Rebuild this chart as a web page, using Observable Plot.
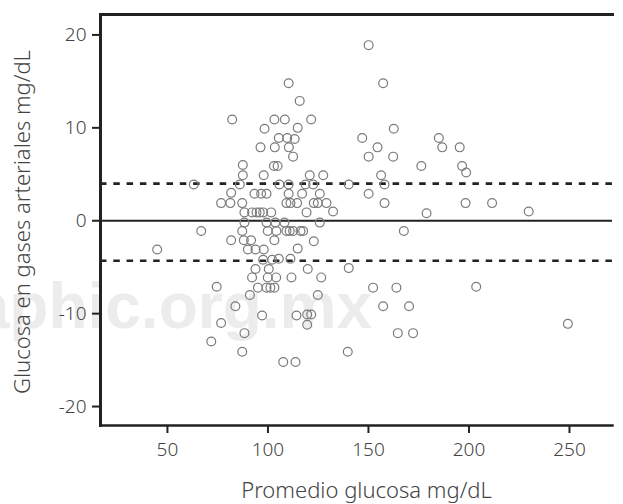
<!DOCTYPE html>
<html>
<head>
<meta charset="utf-8">
<script src="https://cdn.jsdelivr.net/npm/d3@7"></script>
<script src="https://cdn.jsdelivr.net/npm/@observablehq/plot@0.6"></script>
<style>
  html, body { margin: 0; padding: 0; background: #fff; }
  #wrap { position: relative; width: 623px; height: 504px; }
  #wm { position: absolute; left: 0; top: 0; width: 623px; height: 504px; overflow: hidden; z-index: 0; }
  #wm span { position: absolute; right: 251px; top: 269px; font: bold 64px "Liberation Sans", Arial, sans-serif; color: #ececec; white-space: nowrap; }
  #chart { position: absolute; left: 0; top: 0; z-index: 1; }
</style>
</head>
<body>
<div id="wrap">
  <div id="wm"><span>aphic.org.mx</span></div>
  <div id="chart"></div>
</div>
<script>
// Mean of the two glucose measurements (mg/dL)
const avgGlucose = [
  44.9, 63.1, 66.8, 74.5, 76.7, 71.8, 82.2, 81.7, 76.7, 81.3,
  87.2, 81.7, 83.8, 86.0, 87.5, 87.5, 88.3, 88.3, 87.2, 88.0,
  88.3, 87.2, 90.0, 91.6, 92.1, 93.3, 94.3, 95.9, 97.6, 96.6,
  99.3, 96.3, 98.3, 97.9, 93.8, 97.9, 92.1, 93.8, 95.0, 91.0,
  97.1, 97.6, 99.3, 99.9, 100.4, 99.9, 99.3, 101.2, 101.6, 102.1,
  103.2, 103.4, 103.0, 104.8, 103.7, 104.2, 103.2, 104.1, 103.2, 105.4,
  105.7, 105.4, 107.6, 108.4, 110.3, 109.6, 110.4, 112.5, 110.3, 110.3,
  109.2, 111.2, 114.5, 108.2, 109.2, 110.8, 112.5, 116.2, 111.2, 111.7,
  113.3, 114.8, 115.8, 114.8, 114.2, 113.7, 121.5, 120.8, 127.5, 118.7,
  122.5, 117.0, 125.8, 122.8, 124.8, 129.1, 119.2, 132.4, 125.8, 117.5,
  122.8, 119.8, 126.5, 124.8, 119.5, 121.5, 119.5,
  150.1, 157.3, 162.6, 146.9, 154.5, 150.1, 162.3, 176.3, 156.3, 140.2,
  158.0, 150.1, 158.0, 167.6, 140.2, 152.3, 163.9, 157.3, 170.2, 164.6,
  172.2, 139.7, 185.0, 186.7, 195.4, 196.6, 198.6, 198.3, 211.5, 178.9,
  229.7, 203.6, 249.2
];
// Difference: glucose in arterial blood gases (mg/dL)
const diffGlucose = [
  -3.1, 3.9, -1.1, -7.1, -11.0, -13.0, 10.9, 3.0, 1.9, 1.9,
  1.9, -2.1, -9.2, 3.9, 6.0, 4.9, 0.9, -0.2, -1.1, -2.1,
  -12.1, -14.1, -3.1, -2.1, 0.9, 2.9, 0.9, 0.9, 0.9, 2.9,
  2.9, 7.9, 9.9, 4.9, -3.1, -3.1, -6.1, -5.2, -7.2, -8.0,
  -10.2, -4.2, -0.2, -1.1, -5.2, -6.1, -7.2, -7.2, 0.9, -4.2,
  10.9, 7.9, 5.9, 5.9, -0.2, -1.1, -2.1, -6.1, -7.2, 8.9,
  3.9, -4.1, -15.2, 10.9, 14.8, 8.9, 7.9, 6.9, 3.9, 2.9,
  1.9, 1.9, 1.9, -0.2, -1.1, -1.1, -1.1, -1.1, -4.1, -6.1,
  8.8, 10.0, 12.9, -3.0, -10.2, -15.2, 10.9, 4.9, 4.9, 3.9,
  3.9, 2.9, 2.9, 1.9, 1.9, 1.9, 0.9, 1.0, -0.2, -1.1,
  -2.2, -5.2, -6.1, -8.0, -10.1, -10.1, -11.2,
  18.9, 14.8, 9.9, 8.9, 7.9, 6.9, 6.9, 5.9, 4.9, 3.9,
  3.9, 2.9, 1.9, -1.1, -5.1, -7.2, -7.2, -9.2, -9.2, -12.1,
  -12.1, -14.1, 8.9, 7.9, 7.9, 5.9, 5.2, 1.9, 1.9, 0.8,
  1.0, -7.1, -11.1
];
const meanDiff = [0];
const limitsOfAgreement = [4.0, -4.3];
const xTicks = [50, 100, 150, 200, 250];
const yTicks = [20, 10, 0, -10, -20];
const xTitle = ["Promedio glucosa mg/dL"];
const yTitle = ["Glucosa en gases arteriales mg/dL"];

const points = avgGlucose.map((x, i) => ({x, y: diffGlucose[i]}));
const ink = "#222";
const textInk = "#444";

const chart = Plot.plot({
  width: 623,
  height: 504,
  marginLeft: 100,
  marginRight: 11,
  marginTop: 14,
  marginBottom: 79,
  style: {fontFamily: "'Noto Sans', sans-serif", fontSize: "19px", fontWeight: 300, color: textInk, background: "transparent", overflow: "visible"},
  x: {domain: [16.7, 271.4]},
  y: {domain: [-22.04, 22.2]},
  marks: [
    Plot.ruleY(limitsOfAgreement, {stroke: ink, strokeWidth: 2.6, strokeDasharray: "6.5,6.8"}),
    Plot.ruleY(meanDiff, {stroke: ink, strokeWidth: 2}),
    Plot.dot(points, {x: "x", y: "y", r: 4.4, stroke: "#7a7a7a", strokeWidth: 1.2, fill: "none"}),
    Plot.frame({anchor: "left", stroke: ink, strokeWidth: 3}),
    Plot.frame({anchor: "top", stroke: ink, strokeWidth: 3}),
    Plot.frame({anchor: "bottom", stroke: ink, strokeWidth: 2.5}),
    Plot.axisX({ticks: xTicks, tickFormat: d => String(d), tickSize: 8, tickPadding: 9, stroke: ink, strokeWidth: 2, fill: textInk, label: null}),
    Plot.axisY({ticks: yTicks, tickFormat: d => String(d), tickSize: 8, tickPadding: 6, stroke: ink, strokeWidth: 2, fill: textInk, label: null}),
    Plot.text(xTitle, {text: d => d, frameAnchor: "bottom", dx: 10, dy: 65, fontSize: 22, fill: textInk, lineAnchor: "middle", textAnchor: "middle"}),
    Plot.text(yTitle, {text: d => d, frameAnchor: "left", dx: -78, dy: 2, rotate: -90, fontSize: 22, fill: textInk, lineAnchor: "middle", textAnchor: "middle"})
  ]
});
document.getElementById("chart").appendChild(chart);
</script>
</body>
</html>
